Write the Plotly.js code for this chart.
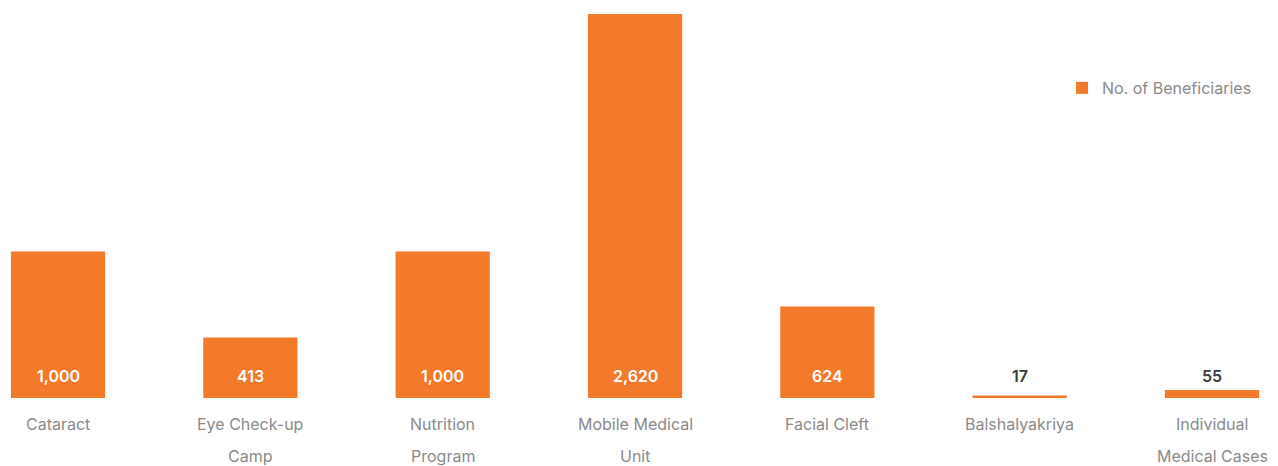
<!DOCTYPE html>
<html>
<head>
<meta charset="utf-8">
<script src="https://cdn.plot.ly/plotly-3.0.1.min.js"></script>
<style>
html, body { margin: 0; padding: 0; background: #fff; }
#chart { width: 1278px; height: 466px; }
</style>
</head>
<body>
<div id="chart"></div>
<script>
var categories = ['Cataract', 'Eye Check-up<br>Camp', 'Nutrition<br>Program', 'Mobile Medical<br>Unit', 'Facial Cleft', 'Balshalyakriya', 'Individual<br>Medical Cases'];
var beneficiaries = [1000, 413, 1000, 2620, 624, 17, 55];
var seriesName = 'No. of Beneficiaries';

var orange = '#F37A2A';
var font = 'Inter, Lato, sans-serif';

var trace = {
  x: categories,
  y: beneficiaries,
  type: 'bar',
  name: seriesName,
  width: 0.49,
  marker: { color: orange },
  hoverinfo: 'none',
  showlegend: true
};

// value labels sit near the baseline, white inside tall bars and dark above thin ones
var annotations = [];
beneficiaries.forEach(function(v, i) {
  var inside = v > 200;
  annotations.push({
    x: categories[i], y: 0, xref: 'x', yref: 'y',
    text: v.toLocaleString('en-US'),
    showarrow: false, yanchor: 'middle', yshift: 22,
    font: { family: font, size: 16, color: inside ? '#ffffff' : '#3a3a3a', weight: 600 }
  });
  // category labels, one annotation per line so the line gap matches
  categories[i].split('<br>').forEach(function(line, j) {
    annotations.push({
      x: categories[i], y: 0, xref: 'x', yref: 'y',
      text: line, showarrow: false, yanchor: 'middle', yshift: -26 - 32 * j,
      font: { family: font, size: 16, color: '#8a8a8a' }
    });
  });
});

var layout = {
  width: 1278,
  height: 466,
  margin: { l: 0, r: 0, t: 0, b: 68 },
  paper_bgcolor: '#ffffff',
  plot_bgcolor: '#ffffff',
  font: { family: font },
  xaxis: {
    type: 'category',
    range: [-0.3016, 6.343],
    showticklabels: false,
    showgrid: false, zeroline: false, showline: false, ticks: ''
  },
  yaxis: {
    range: [0, 2715],
    visible: false,
    showgrid: false, zeroline: false
  },
  showlegend: true,
  legend: {
    x: 0.831, y: 0.779, xanchor: 'left', yanchor: 'middle',
    font: { family: font, size: 16, color: '#8a8a8a' },
    bgcolor: 'rgba(0,0,0,0)'
  },
  annotations: annotations
};

Plotly.newPlot('chart', [trace], layout, { displayModeBar: false, staticPlot: true });
</script>
</body>
</html>
